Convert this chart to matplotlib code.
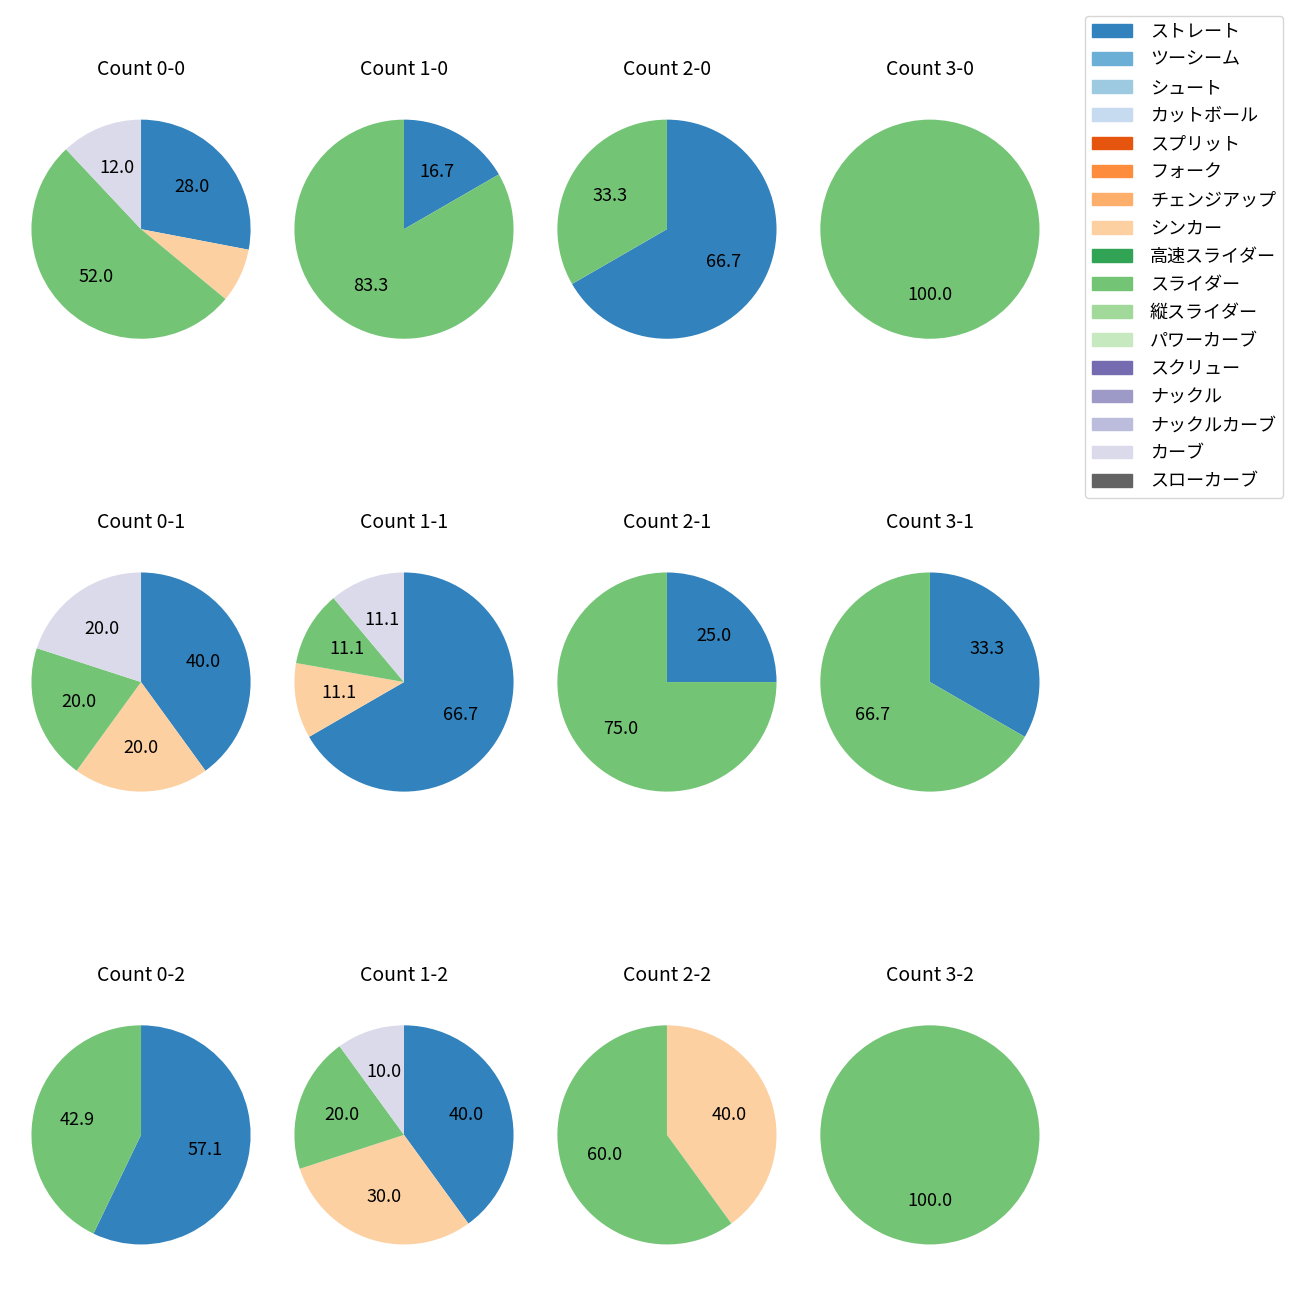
import matplotlib
matplotlib.use("Agg")
import matplotlib.pyplot as plt
from matplotlib.patches import Patch

plt.rcParams["font.family"] = ["Noto Sans CJK JP", "DejaVu Sans"]
plt.rcParams["font.size"] = 12

pitch_types = ["ストレート", "ツーシーム", "シュート", "カットボール", "スプリット", "フォーク",
               "チェンジアップ", "シンカー", "高速スライダー", "スライダー", "縦スライダー",
               "パワーカーブ", "スクリュー", "ナックル", "ナックルカーブ", "カーブ", "スローカーブ"]
pitch_colors = ["#3182bd", "#6baed6", "#9ecae1", "#c6dbef", "#e6550d", "#fd8d3c",
                "#fdae6b", "#fdd0a2", "#31a354", "#74c476", "#a1d99b", "#c7e9c0",
                "#756bb1", "#9e9ac8", "#bcbddc", "#dadaeb", "#636363"]

# counts in row order: 0-0, 1-0, 2-0, 3-0, 0-1, ..., 3-2
count_labels = ["0-0", "1-0", "2-0", "3-0", "0-1", "1-1", "2-1", "3-1", "0-2", "1-2", "2-2", "3-2"]
straight = [7, 1, 2, 0, 2, 6, 1, 1, 4, 4, 0, 0]
sinker = [2, 0, 0, 0, 1, 1, 0, 0, 0, 3, 2, 0]
slider = [13, 5, 1, 1, 1, 1, 3, 2, 3, 2, 3, 1]
curve = [3, 0, 0, 0, 1, 1, 0, 0, 0, 1, 0, 0]

used = {"ストレート": straight, "シンカー": sinker, "スライダー": slider, "カーブ": curve}

fig, axes = plt.subplots(3, 4, figsize=(13, 13))
fig.subplots_adjust(left=0.0242, right=0.7996, top=0.908, bottom=0.0427, wspace=0.2, hspace=1.066)

for i, ax in enumerate(axes.flat):
    vals, cols = [], []
    for name in pitch_types:
        if name in used and used[name][i] > 0:
            vals.append(used[name][i])
            cols.append(pitch_colors[pitch_types.index(name)])
    ax.pie(vals, colors=cols, startangle=90, counterclock=False,
           autopct=lambda p: f"{p:.1f}" if p >= 10 else "",
           textprops={"fontsize": 13})
    ax.set_xlim(-1, 1)
    ax.set_ylim(-1, 1)
    ax.set_title(f"Count {count_labels[i]}", fontsize=14, pad=32)

handles = [Patch(color=c, label=n) for n, c in zip(pitch_types, pitch_colors)]
fig.legend(handles=handles, loc="upper right", fontsize=13, bbox_to_anchor=(0.994, 0.995),
           handlelength=2.2, handletextpad=1.0, labelspacing=0.56)

fig.savefig("out.png", dpi=100)
